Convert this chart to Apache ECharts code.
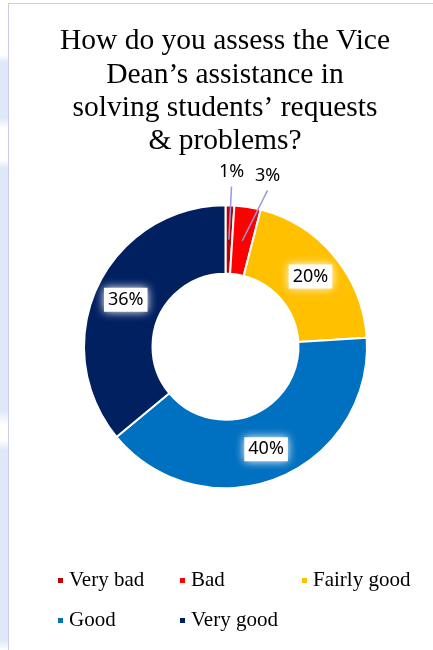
<!DOCTYPE html>
<html>
<head>
<meta charset="utf-8">
<script src="https://cdn.jsdelivr.net/npm/echarts@6/dist/echarts.min.js"></script>
<style>
  html, body { margin: 0; padding: 0; background: #fff; }
  #wrap { position: relative; width: 433px; height: 650px; overflow: hidden; background: #fff; }
  #strip {
    position: absolute; left: 0; top: 0; width: 8px; height: 650px;
    background: linear-gradient(to bottom,
      #fff 0px, #fff 55px, #dfe8f7 62px, #dfe8f7 118px, #fff 128px, #fff 160px,
      #dfe8f7 168px, #dfe8f7 410px, #fff 425px, #fff 440px, #dfe8f7 450px, #dfe8f7 640px, #fff 650px);
  }
  #frame {
    position: absolute; left: 8px; top: 3px; width: 440px; height: 660px;
    border-left: 1.5px solid #cbcbee; border-top: 1.5px solid #cbcbee;
  }
  /* drawing surface is a little wider than the window so the title centres on the ring */
  #chart { position: absolute; left: 0; top: 0; width: 450px; height: 650px; }
</style>
</head>
<body>
<div id="wrap">
  <div id="strip"></div>
  <div id="frame"></div>
  <div id="chart"></div>
</div>
<script>
// Survey answers and their shares (percent)
const categories = ['Very bad', 'Bad', 'Fairly good', 'Good', 'Very good'];
const shares = [1, 3, 20, 40, 36];
const sliceColors = ['#C00000', '#FF0000', '#FFC000', '#0070C0', '#002060'];
// Thin slices whose values are called out above the ring with leader lines
const calloutNames = ['Very bad', 'Bad'];

const titleText = 'How do you assess the Vice\nDean\u2019s assistance in\nsolving students\u2019 requests\n& problems?';

// Sideways nudge of each callout's leader-line end, in px
const calloutShift = { 'Very bad': [1, 0], 'Bad': [17, 2] };

const ringCenter = [225.5, 346.7];
const innerR = 73, outerR = 141.5, midR = (innerR + outerR) / 2;

const chart = echarts.init(document.getElementById('chart'), null, { renderer: 'canvas' });

const valueLabel = {
  fontFamily: 'Noto Sans',
  fontSize: 18,
  color: '#000',
  formatter: '{c}%'
};

chart.setOption({
  animation: false,
  title: {
    text: titleText,
    left: 'center',
    top: 25,
    padding: 0,
    textStyle: {
      fontFamily: 'Liberation Serif',
      fontSize: 29.5,
      fontWeight: 'normal',
      color: '#000',
      lineHeight: 33.3
    }
  },
  legend: {
    data: categories,
    left: 56,
    top: 563,
    width: 365,
    padding: 0,
    itemGap: 5,
    itemWidth: 7,
    itemHeight: 7,
    icon: 'rect',
    selectedMode: false,
    textStyle: {
      fontFamily: 'Liberation Serif',
      fontSize: 21,
      color: '#000',
      width: 104,
      lineHeight: 35
    }
  },
  series: [
    {
      // the visible ring
      type: 'pie',
      silent: true,
      z: 2,
      center: ringCenter,
      radius: [innerR, outerR],
      startAngle: 90,
      clockwise: true,
      avoidLabelOverlap: false,
      itemStyle: { borderColor: '#fff', borderWidth: 2 },
      label: Object.assign({
        show: true,
        position: 'inside',
        backgroundColor: '#fff',
        padding: [3, 4],
        shadowColor: '#fff',
        shadowBlur: 10
      }, valueLabel),
      labelLine: { show: false },
      data: categories.map((name, i) => ({
        name: name,
        value: shares[i],
        itemStyle: { color: sliceColors[i] },
        label: { show: calloutNames.indexOf(name) < 0 }
      }))
    },
    {
      // invisible copy reaching mid-ring, used only to anchor the callout leader lines
      type: 'pie',
      silent: true,
      z: 5,
      center: ringCenter,
      radius: [0, midR],
      startAngle: 90,
      clockwise: true,
      avoidLabelOverlap: false,
      itemStyle: { color: 'rgba(0,0,0,0)' },
      label: Object.assign({ show: true, position: 'outside' }, valueLabel),
      labelLine: {
        show: true,
        length: 53,
        length2: 0,
        lineStyle: { color: '#9898de', width: 1.5 }
      },
      labelLayout: function (p) {
        const pts = p.labelLinePoints;
        if (!pts || !pts.length) return {};
        const name = categories[p.dataIndex];
        const shift = calloutShift[name] || [0, 0];
        const start = pts[0];
        const end = pts[pts.length - 1];
        const ex = end[0] + shift[0];
        const ey = end[1] + shift[1];
        return {
          x: ex,
          y: ey - 6,
          align: 'center',
          verticalAlign: 'bottom',
          labelLinePoints: [start, [ex, ey]]
        };
      },
      data: categories.map((name, i) => {
        const on = calloutNames.indexOf(name) >= 0;
        return {
          name: name,
          value: shares[i],
          label: { show: on },
          labelLine: { show: on }
        };
      })
    }
  ]
});
</script>
</body>
</html>
